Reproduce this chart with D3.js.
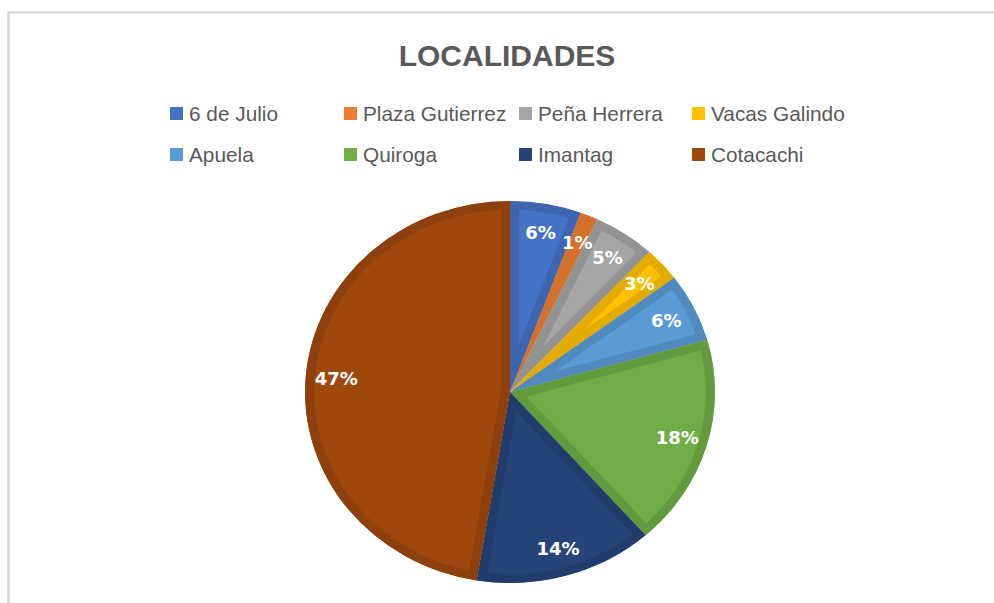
<!DOCTYPE html>
<html>
<head>
<meta charset="utf-8">
<script src="https://cdn.jsdelivr.net/npm/d3@7"></script>
<style>
  html, body { margin: 0; padding: 0; background: #fff; }
  svg { display: block; }
</style>
</head>
<body>
<div id="chart"></div>
<script>
// datos de la gráfica (porcentajes)
const localidades = ["6 de Julio", "Plaza Gutierrez", "Peña Herrera", "Vacas Galindo",
                     "Apuela", "Quiroga", "Imantag", "Cotacachi"];
const valores = [5.6, 1.4, 4.9, 2.9, 5.8, 17.9, 14.1, 47.4];
const colores = ["#4472C4", "#ED7D31", "#A5A5A5", "#FFC000",
                 "#5B9BD5", "#70AD47", "#264478", "#9E480E"];
const titulo = "LOCALIDADES";

const W = 994, H = 603;
const svg = d3.select("#chart").append("svg").attr("width", W).attr("height", H);

// marco del área del gráfico (solo se ven arriba e izquierda)
svg.append("rect")
  .attr("x", 8.5).attr("y", 12.5)
  .attr("width", W + 20).attr("height", H + 20)
  .attr("fill", "#fff")
  .attr("stroke", "#d9d9d9").attr("stroke-width", 2.5);

// título
svg.append("text")
  .attr("x", 507).attr("y", 66)
  .attr("text-anchor", "middle")
  .attr("font-family", "'Liberation Sans', Arial, sans-serif")
  .attr("font-weight", 700)
  .attr("font-size", 30)
  .attr("fill", "#595959")
  .text(titulo);

// leyenda 4 x 2
const legX = [170, 344, 519, 692];
const legY = [114, 155];
const leg = svg.append("g");
localidades.forEach((name, i) => {
  const g = leg.append("g")
    .attr("transform", `translate(${legX[i % 4]},${legY[Math.floor(i / 4)]})`);
  g.append("rect")
    .attr("x", 0).attr("y", -7)
    .attr("width", 13).attr("height", 13)
    .attr("fill", colores[i]);
  g.append("text")
    .attr("x", 19).attr("y", 7)
    .attr("font-family", "'Liberation Sans', Arial, sans-serif")
    .attr("font-size", 20.8)
    .attr("fill", "#595959")
    .text(name);
});

// pastel (ligeramente más ancho que alto, como en la imagen)
const cx = 510, cy = 392, ry = 191, rx = 205;
const sx = rx / ry;
const band = 8.5; // borde interior más oscuro

const pie = d3.pie().sort(null).value(d => d);
const arcs = pie(valores);
const arc = d3.arc().innerRadius(0).outerRadius(ry);

const gPie = svg.append("g")
  .attr("transform", `translate(${cx},${cy}) scale(${sx},1)`);
const defs = svg.append("defs");

arcs.forEach((a, i) => {
  const id = "clip-" + i;
  defs.append("clipPath").attr("id", id)
    .append("path").attr("d", arc(a));
  gPie.append("path")
    .attr("d", arc(a))
    .attr("clip-path", `url(#${id})`)
    .attr("fill", colores[i])
    .attr("stroke", d3.color(colores[i]).darker(0.32))
    .attr("stroke-width", band * 2)
    .attr("stroke-linejoin", "miter");
});

// etiquetas de porcentaje
const total = d3.sum(valores);
const labelArc = d3.arc().innerRadius(ry * 0.85).outerRadius(ry * 0.85);
svg.append("g")
  .attr("transform", `translate(${cx},${cy})`)
  .selectAll("text")
  .data(arcs)
  .join("text")
  .attr("x", d => labelArc.centroid(d)[0] * sx)
  .attr("y", d => labelArc.centroid(d)[1])
  .attr("dy", "0.36em")
  .attr("text-anchor", "middle")
  .attr("font-family", "'DejaVu Sans', sans-serif")
  .attr("font-weight", 700)
  .attr("font-size", 18)
  .attr("fill", "#fff")
  .text(d => Math.round(100 * d.value / total) + "%");
</script>
</body>
</html>
